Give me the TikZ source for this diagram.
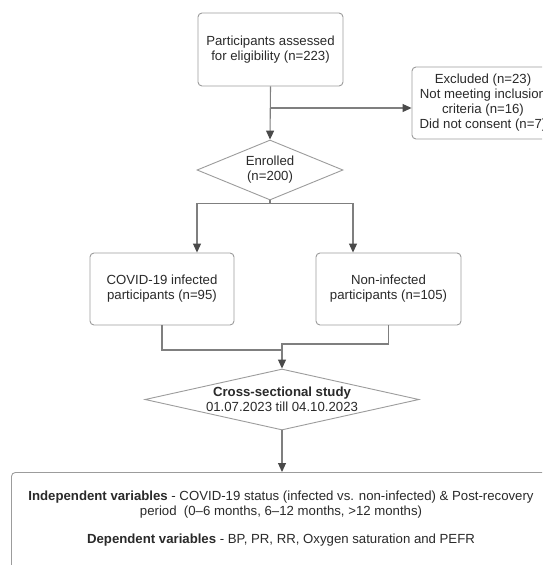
\documentclass[tikz,border=0pt]{standalone}
\usepackage{fontspec}
\setmainfont{Liberation Sans}
\usetikzlibrary{shapes.geometric,arrows.meta,calc}
\definecolor{boxc}{HTML}{9C9C9C}
\definecolor{linec}{HTML}{7F7F7F}
\definecolor{tipc}{HTML}{4A4A4A}
\definecolor{txtc}{HTML}{2A2A2A}
\begin{document}
\begin{tikzpicture}[x=1pt,y=-1pt,
  every node/.style={text=txtc, font=\fontsize{13.2}{15}\selectfont},
  box/.style={draw=boxc, line width=0.9pt, rounded corners=4pt, fill=white, align=center, inner sep=0pt},
  dia/.style={draw=boxc, line width=0.9pt, diamond, inner sep=0pt, fill=white},
  conn/.style={draw=linec, line width=1.1pt},
  arr/.style={conn, -{Triangle[length=9pt,width=8pt,color=tipc]}},
  txt/.style={align=center, inner sep=0pt}]
\path[use as bounding box, fill=white] (0,0) rectangle (542,565);
\clip (0,0) rectangle (542,565);

\node[box, minimum width=145pt, minimum height=73pt] (top) at (270.5,49.5) {Participants assessed\\for eligibility (n=223)};
\node[box, minimum width=142pt, minimum height=72pt] (excl) at (483,103) {Excluded (n=23)\\Not meeting inclusion\\criteria (n=16)\\Did not consent (n=7)};
\node[dia, minimum width=146pt, minimum height=60pt] (enr) at (270,170) {};
\node[txt] (enrt) at (enr) {Enrolled\\(n=200)};
\node[box, minimum width=144pt, minimum height=72pt] (inf) at (162,289) {COVID-19 infected\\participants (n=95)};
\node[box, minimum width=145pt, minimum height=72pt] (non) at (388.5,289) {Non-infected\\participants (n=105)};
\node[dia, minimum width=274pt, minimum height=61pt] (cs) at (282,399.5) {};
\node[txt] (cst) at (cs) {\textbf{Cross-sectional study}\\01.07.2023 till 04.10.2023};
\node[box, minimum width=542pt, minimum height=120pt, anchor=north west] (var) at (11,472) {};
\node[txt] (ivt) at (281,504.5) {\textbf{Independent variables} - COVID-19 status (infected vs. non-infected) \& Post-recovery\\period\ \ (0–6 months, 6–12 months, >12 months)};
\node[txt] (dvt) at (281,540) {\textbf{Dependent variables} - BP, PR, RR, Oxygen saturation and PEFR};

\coordinate (br) at (top.south |- 0,108);
\draw[arr] (top.south) -- (enr.north);
\draw[arr] (br) -- (br -| excl.west);
\coordinate (sp) at ($(enr.south)+(0,3)$);
\draw[arr] (enr.south) -- (sp) -| ([xshift=35pt]inf.north);
\draw[arr] (sp) -| ([xshift=-35.5pt]non.north);
\coordinate (jn) at (cs.north |- 0,350);
\draw[conn] (inf.south) |- (jn);
\draw[conn] (non.south) |- ($(jn)+(0,-6)$) -- (jn);
\draw[arr] (jn) -- (cs.north);
\draw[arr] (cs.south) -- (var.north -| cs.south);
\end{tikzpicture}
\end{document}
